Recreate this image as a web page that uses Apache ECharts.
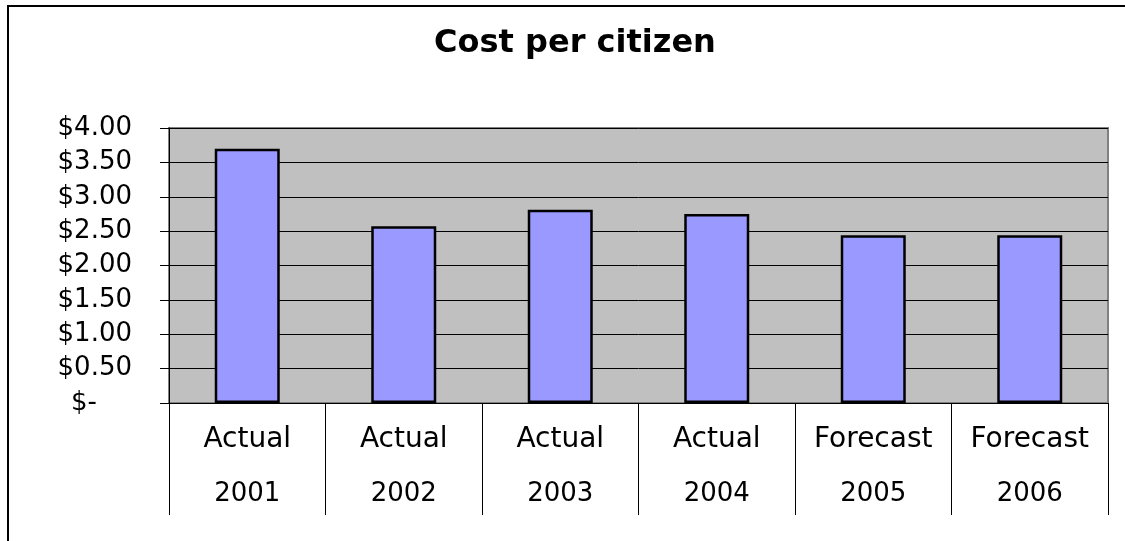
<!DOCTYPE html>
<html>
<head>
<meta charset="utf-8">
<script src="https://cdn.jsdelivr.net/npm/echarts@6/dist/echarts.min.js"></script>
<style>
  html, body { margin: 0; padding: 0; background: #fff; }
  #chart { width: 1125px; height: 541px; }
</style>
</head>
<body>
<div id="chart"></div>
<script>
// 数据
const kinds = ['Actual', 'Actual', 'Actual', 'Actual', 'Forecast', 'Forecast'];
const years = ['2001', '2002', '2003', '2004', '2005', '2006'];
const costs = [3.70, 2.57, 2.81, 2.75, 2.44, 2.44];
const yTicks = [0, 4, 0.5]; // min, max, interval

const categories = years.map((y, i) => kinds[i] + '|' + y);

let chart = echarts.init(document.getElementById('chart'));
chart.setOption({
  backgroundColor: '#fff',
  animation: false,
  title: {
    text: 'Cost per citizen',
    left: 570,
    top: 23,
    textAlign: 'center',
    textStyle: {fontFamily: 'DejaVu Sans', fontWeight: 'bold', fontSize: 32, color: '#000'}
  },
  // 外框
  graphic: [{
    type: 'rect',
    shape: {x: 8, y: 6, width: 1300, height: 700},
    style: {fill: 'none', stroke: '#000', lineWidth: 2},
    silent: true
  }],
  grid: {
    left: 169,
    right: 17,
    top: 128,
    bottom: 138,
    show: true,
    backgroundColor: '#c0c0c0',
    borderColor: '#808080',
    borderWidth: 2
  },
  xAxis: {
    type: 'category',
    data: categories,
    axisLine: {lineStyle: {color: '#000', width: 1}},
    axisTick: {show: true, interval: 0, length: 112, lineStyle: {color: '#000', width: 1}},
    axisLabel: {
      interval: 0,
      margin: 9,
      formatter: (v) => {
        const p = v.split('|');
        return '{a|' + p[0] + '}\n{b|' + p[1] + '}';
      },
      rich: {
        a: {fontFamily: 'DejaVu Sans', fontSize: 28, lineHeight: 55, color: '#000'},
        b: {fontFamily: 'DejaVu Sans', fontSize: 26, lineHeight: 55, color: '#000'}
      }
    }
  },
  yAxis: {
    type: 'value',
    min: yTicks[0],
    max: yTicks[1],
    interval: yTicks[2],
    axisLine: {show: true, lineStyle: {color: '#000', width: 1}},
    axisTick: {show: true, length: 9, lineStyle: {color: '#000'}},
    splitLine: {show: true, lineStyle: {color: '#000', width: 1}},
    axisLabel: {
      margin: 37,
      fontFamily: 'DejaVu Sans',
      fontSize: 26,
      color: '#000',
      formatter: (v) => v === 0 ? '{z|$-}' : '$' + v.toFixed(2),
      rich: {
        z: {fontFamily: 'DejaVu Sans', fontSize: 26, color: '#000', padding: [0, 35, 0, 0]}
      }
    }
  },
  series: [{
    type: 'bar',
    data: costs,
    barWidth: 65,
    itemStyle: {color: '#9999ff', borderColor: '#000', borderWidth: 2.5}
  }]
});
</script>
</body>
</html>
